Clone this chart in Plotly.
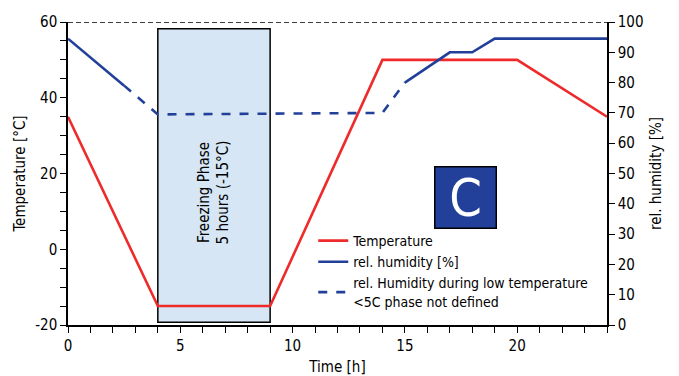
import plotly.graph_objects as go

# ---- data ----
temp_time = [0, 4, 9, 14, 20, 24]
temp_vals = [35, -15, -15, 50, 50, 35]

hum_time_a = [0, 2.5]
hum_vals_a = [94.5, 79]
hum_time_dash = [2.5, 4, 14, 15]
hum_vals_dash = [79, 69.5, 70, 80]
hum_time_b = [15, 17, 18, 19, 24]
hum_vals_b = [80, 90, 90, 94.5, 94.5]

freeze_start, freeze_end = 4, 9
x_ticks = [0, 5, 10, 15, 20]
y_left_ticks = [-20, 0, 20, 40, 60]
y_left_labels = ["-20", "0", "20", "40", "60"]
y_right_ticks = list(range(0, 101, 10))

RED = "#ee2a2a"
BLUE = "#22409a"
FONT = "Liberation Sans Narrow, DejaVu Sans Condensed, Arial Narrow, sans-serif"

fig = go.Figure()
fig.add_trace(go.Scatter(x=temp_time, y=temp_vals, mode="lines", name="Temperature",
                         line=dict(color=RED, width=2.6), yaxis="y"))
fig.add_trace(go.Scatter(x=hum_time_a, y=hum_vals_a, mode="lines", name="rel. humidity [%]",
                         line=dict(color=BLUE, width=2.6), yaxis="y2", legendgroup="h"))
fig.add_trace(go.Scatter(x=hum_time_b, y=hum_vals_b, mode="lines", name="rel. humidity [%]",
                         line=dict(color=BLUE, width=2.6), yaxis="y2", legendgroup="h", showlegend=False))
fig.add_trace(go.Scatter(x=hum_time_dash, y=hum_vals_dash, mode="lines",
                         name="rel. Humidity during low temperature<br><5C phase not defined",
                         line=dict(color=BLUE, width=2.6, dash="dash"), yaxis="y2"))

# freezing phase box
fig.add_shape(type="rect", xref="x", yref="y", x0=freeze_start, x1=freeze_end, y0=-19.3, y1=58.2,
              fillcolor="#d6e6f5", line=dict(color="black", width=1.5), layer="below")
fig.add_annotation(x=(freeze_start + freeze_end) / 2, y=15, xref="x", yref="y",
                   text="Freezing Phase<br>5 hours (-15°C)", textangle=-90, showarrow=False,
                   font=dict(family=FONT, size=15, color="black"))
# top dashed border
fig.add_shape(type="line", xref="paper", yref="y", x0=0, x1=1, y0=60, y1=60,
              line=dict(color="black", width=1.5, dash="5px,3px"))
# "C" badge
fig.add_annotation(x=0.7375, y=0.422, xref="paper", yref="paper", xanchor="center", yanchor="middle",
                   text="C", showarrow=False,
                   font=dict(family=FONT, size=52, color="white"), bgcolor=BLUE,
                   bordercolor="black", borderwidth=1.5, width=60, height=60, borderpad=0)

tickfont = dict(family=FONT, size=15, color="black")
common = dict(showgrid=False, zeroline=False, showline=True, linecolor="black", linewidth=1.5,
              tickcolor="black", tickwidth=1.2, ticklen=6, automargin=False)

fig.update_layout(
    width=671, height=368,
    margin=dict(l=60, r=72, t=14, b=51),
    paper_bgcolor="white", plot_bgcolor="white",
    font=dict(family=FONT, size=15, color="black"),
    showlegend=True,
    legend=dict(x=0.455, y=0.33, xanchor="left", yanchor="top", bgcolor="rgba(0,0,0,0)",
                font=dict(family=FONT, size=14, color="black"), tracegroupgap=0, itemwidth=30),
    xaxis=dict(range=[0, 24], tickvals=x_ticks, ticks="outside", tickfont=tickfont,
               minor=dict(dtick=1, ticks="outside", ticklen=6, tickcolor="black", tickwidth=1.2),
               title=dict(text="Time [h]", font=dict(family=FONT, size=15), standoff=8), **common),
    yaxis=dict(range=[-20, 60], tickvals=y_left_ticks, ticktext=y_left_labels, ticks="outside",
               tickfont=tickfont,
               minor=dict(dtick=5, tick0=0, ticks="outside", ticklen=6, tickcolor="black", tickwidth=1.2),
               title=dict(text="Temperature [°C]", font=dict(family=FONT, size=15), standoff=6), **common),
    yaxis2=dict(range=[0, 100], tickvals=y_right_ticks, ticks="outside", overlaying="y", side="right",
                anchor="x", tickfont=tickfont,
                title=dict(text="rel. humidity [%]", font=dict(family=FONT, size=15), standoff=8), **common),
    # overlay axes for inward tick halves (crossing ticks)
    xaxis2=dict(range=[0, 24], overlaying="x", side="bottom", anchor="y", tickvals=x_ticks,
                ticks="inside", showticklabels=False,
                minor=dict(dtick=1, ticks="inside", ticklen=6, tickcolor="black", tickwidth=1.2), **common),
    yaxis3=dict(range=[-20, 60], overlaying="y", side="left", anchor="x", tickvals=y_left_ticks,
                ticks="inside", showticklabels=False,
                minor=dict(dtick=5, tick0=0, ticks="inside", ticklen=6, tickcolor="black", tickwidth=1.2), **common),
    yaxis4=dict(range=[0, 100], overlaying="y", side="right", anchor="x", tickvals=y_right_ticks,
                ticks="inside", showticklabels=False, **common),
)
fig.write_html("out.html")
